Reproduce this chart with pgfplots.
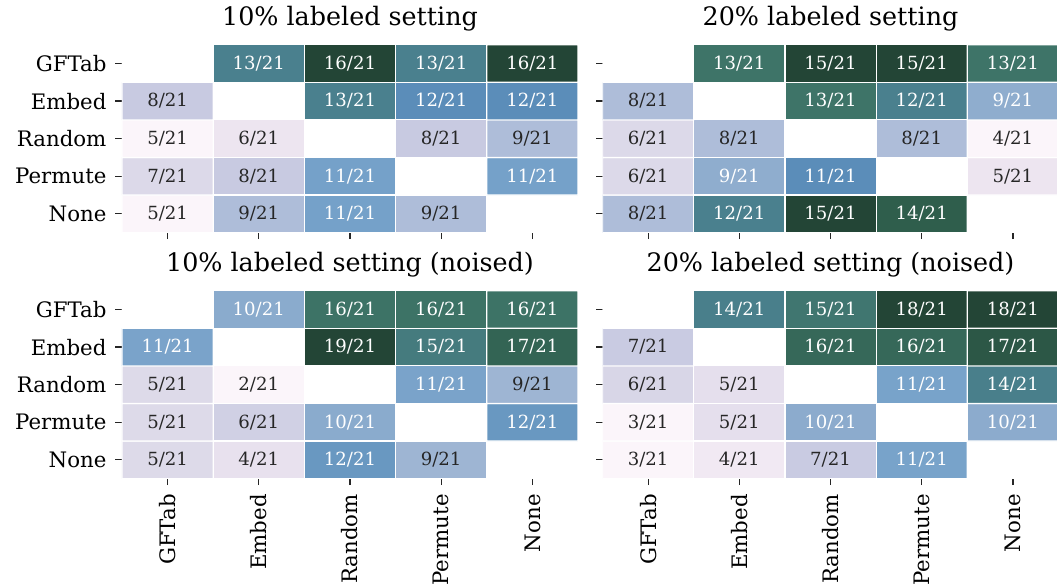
\documentclass[border=0pt]{standalone}
\usepackage{pgfplots}
\pgfplotsset{compat=1.18}
\usepackage{pgfplotstable}
\usepackage{fontspec}
\setmainfont{DejaVu Serif}
\definecolor{txt}{HTML}{262626}
\newcommand\titlesize{\fontsize{25.4}{30}\selectfont}
\newcommand\ticksize{\fontsize{21.3}{25}\selectfont}
\newcommand\annotsize{\fontsize{18.1}{21}\selectfont}

% rows: y=0 None, 1 Permute, 2 Random, 3 Embed, 4 GFTab ; v=-1 on the diagonal
% tw: 1 = white text, 0 = dark text, 2 = no text
\pgfplotstableread{
x y v lab tw
0 0 5 5/21 0
1 0 9 9/21 0
2 0 11 11/21 1
3 0 9 9/21 0
4 0 -1 x 2
0 1 7 7/21 0
1 1 8 8/21 0
2 1 11 11/21 1
3 1 -1 x 2
4 1 11 11/21 1
0 2 5 5/21 0
1 2 6 6/21 0
2 2 -1 x 2
3 2 8 8/21 0
4 2 9 9/21 0
0 3 8 8/21 0
1 3 -1 x 2
2 3 13 13/21 1
3 3 12 12/21 1
4 3 12 12/21 1
0 4 -1 x 2
1 4 13 13/21 1
2 4 16 16/21 1
3 4 13 13/21 1
4 4 16 16/21 1
}\tabA

\pgfplotstableread{
x y v lab tw
0 0 8 8/21 0
1 0 12 12/21 1
2 0 15 15/21 1
3 0 14 14/21 1
4 0 -1 x 2
0 1 6 6/21 0
1 1 9 9/21 1
2 1 11 11/21 1
3 1 -1 x 2
4 1 5 5/21 0
0 2 6 6/21 0
1 2 8 8/21 0
2 2 -1 x 2
3 2 8 8/21 0
4 2 4 4/21 0
0 3 8 8/21 0
1 3 -1 x 2
2 3 13 13/21 1
3 3 12 12/21 1
4 3 9 9/21 1
0 4 -1 x 2
1 4 13 13/21 1
2 4 15 15/21 1
3 4 15 15/21 1
4 4 13 13/21 1
}\tabB

\pgfplotstableread{
x y v lab tw
0 0 5 5/21 0
1 0 4 4/21 0
2 0 12 12/21 1
3 0 9 9/21 0
4 0 -1 x 2
0 1 5 5/21 0
1 1 6 6/21 0
2 1 10 10/21 1
3 1 -1 x 2
4 1 12 12/21 1
0 2 5 5/21 0
1 2 2 2/21 0
2 2 -1 x 2
3 2 11 11/21 1
4 2 9 9/21 0
0 3 11 11/21 1
1 3 -1 x 2
2 3 19 19/21 1
3 3 15 15/21 1
4 3 17 17/21 1
0 4 -1 x 2
1 4 10 10/21 1
2 4 16 16/21 1
3 4 16 16/21 1
4 4 16 16/21 1
}\tabC

\pgfplotstableread{
x y v lab tw
0 0 3 3/21 0
1 0 4 4/21 0
2 0 7 7/21 0
3 0 11 11/21 1
4 0 -1 x 2
0 1 3 3/21 0
1 1 5 5/21 0
2 1 10 10/21 1
3 1 -1 x 2
4 1 10 10/21 1
0 2 6 6/21 0
1 2 5 5/21 0
2 2 -1 x 2
3 2 11 11/21 1
4 2 14 14/21 1
0 3 7 7/21 0
1 3 -1 x 2
2 3 16 16/21 1
3 3 16 16/21 1
4 3 17 17/21 1
0 4 -1 x 2
1 4 14 14/21 1
2 4 15 15/21 1
3 4 18 18/21 1
4 4 18 18/21 1
}\tabD

\pgfplotsset{
  colormap={heat}{rgb255(-1)=(255,255,255) rgb255(-0.5)=(255,255,255)
    rgb255(0)=(251,245,250) rgb255(1)=(237,229,240) rgb255(2)=(220,217,233)
    rgb255(3)=(200,202,225) rgb255(4)=(174,189,217) rgb255(5)=(143,173,206)
    rgb255(6)=(117,161,201) rgb255(7)=(91,141,185) rgb255(8)=(74,128,142)
    rgb255(9)=(62,116,104) rgb255(10)=(47,94,76) rgb255(11)=(35,69,54)},
  hm/.style={
    scale only axis, width=456pt, height=188pt,
    anchor=north west,
    xmin=-0.5, xmax=4.5, ymin=-0.5, ymax=4.5,
    axis line style={draw=none},
    xtick={0,...,4}, ytick={0,...,4},
    tick pos=left,
    tick align=outside, major tick length=6.5pt,
    tick style={line width=1.2pt, txt},
    xticklabels={}, yticklabels={},
    tick label style={font=\ticksize, text=black},
    yticklabel style={xshift=-5.5pt},
    title style={font=\titlesize, anchor=base, at={(0.5,1)}, yshift=13.5pt},
    point meta min=-1, point meta max=11,
    colormap name=heat,
  },
  ylab/.style={yticklabels={None,Permute,Random,Embed,GFTab}},
  xlab/.style={xticklabels={GFTab,Embed,Random,Permute,None},
    xticklabel style={rotate=90, anchor=east, xshift=-5.5pt}},
  annot/.style={draw=none, mark=none, nodes near coords, point meta=explicit symbolic,
    nodes near coords align=center,
    every node near coord/.append style={font=\annotsize, text=#1, anchor=center}},
}

\newcommand\cells[3]{%
  \addplot[matrix plot*, mesh/cols=5, draw=white, faceted color=white, line width=1.2pt,
    point meta={\thisrow{v}<0 ? -1 : 11*(\thisrow{v}-#2)/(#3-#2)}]
    table[x=x, y=y] {#1};
  \addplot[annot=white, x filter/.expression={\thisrow{tw}==1 ? x : nan}]
    table[x=x, y=y, meta=lab] {#1};
  \addplot[annot=txt, x filter/.expression={\thisrow{tw}==0 ? x : nan}]
    table[x=x, y=y, meta=lab] {#1};
}

\begin{document}
\begin{tikzpicture}
\useasboundingbox (0,0) rectangle (1057pt,587pt);
\begin{axis}[hm, ylab, at={(122pt,542.3pt)}, title={10\% labeled setting}]
\cells{\tabA}{5}{16}
\end{axis}
\begin{axis}[hm, at={(602.5pt,542.3pt)}, title={20\% labeled setting}]
\cells{\tabB}{4}{15}
\end{axis}
\begin{axis}[hm, ylab, xlab, at={(122pt,296.3pt)}, title={10\% labeled setting (noised)}]
\cells{\tabC}{2}{19}
\end{axis}
\begin{axis}[hm, xlab, at={(602.5pt,296.3pt)}, title={20\% labeled setting (noised)}]
\cells{\tabD}{3}{18}
\end{axis}
\end{tikzpicture}
\end{document}
